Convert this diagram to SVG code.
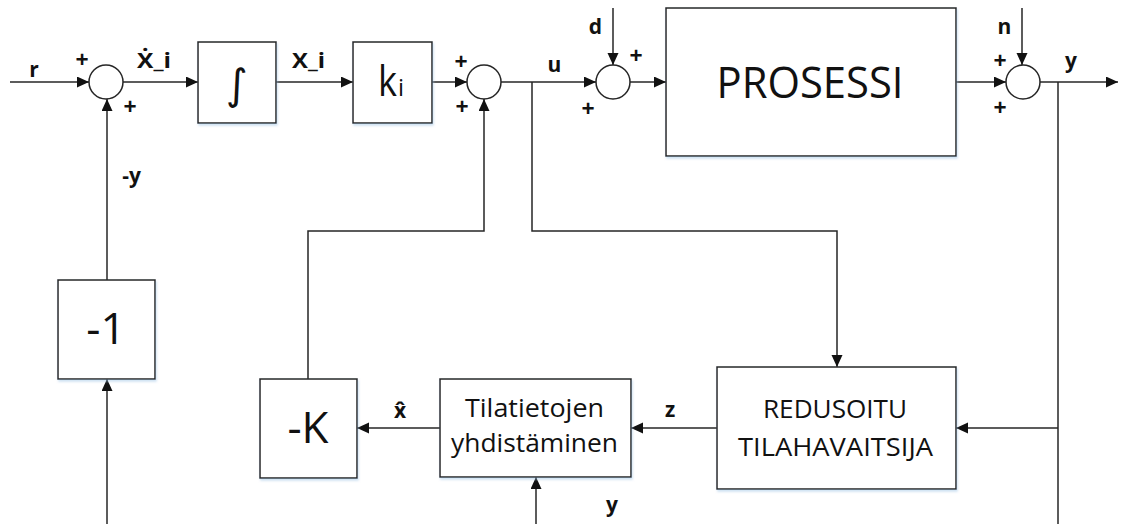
<svg xmlns="http://www.w3.org/2000/svg" width="1122" height="524" viewBox="0 0 1122 524">
<defs>
<style>
.box{fill:#fff;stroke:#262626;stroke-width:1.5;filter:url(#sh)}
.sum{fill:#fff;stroke:#262626;stroke-width:1.5}
.ln{fill:none;stroke:#262626;stroke-width:1.5;marker-end:url(#ah)}
.ln0{fill:none;stroke:#262626;stroke-width:1.5}
.big{font-family:"Open Sans","Noto Sans",sans-serif;fill:#111;text-anchor:middle}
.lbl{font-family:"Open Sans","Noto Sans",sans-serif;font-weight:bold;font-size:21px;fill:#111;text-anchor:middle}
.pl{font-family:"Open Sans","Noto Sans",sans-serif;font-weight:bold;font-size:23px;fill:#111;text-anchor:middle}
</style>
<marker id="ah" markerUnits="userSpaceOnUse" markerWidth="13" markerHeight="12" refX="12" refY="5.5" orient="auto">
<path d="M0,0 L12,5.5 L0,11 Z" fill="#111"/>
</marker>
<filter id="sh" x="-10%" y="-10%" width="120%" height="130%">
<feDropShadow dx="1" dy="2" stdDeviation="1.2" flood-color="#9dc3e6" flood-opacity="0.5"/>
</filter>
</defs>

<g id="connectors">
<path class="ln" d="M10,82 H89"/>
<path class="ln" d="M123,82 H198"/>
<path class="ln" d="M276,82 H353"/>
<path class="ln" d="M432,82 H467"/>
<path class="ln" d="M501,82 H596"/>
<path class="ln" d="M630,82 H666"/>
<path class="ln" d="M613,8 V65"/>
<path class="ln" d="M956,82 H1006"/>
<path class="ln" d="M1022,8 V65"/>
<path class="ln" d="M1040,82 H1118"/>
<path class="ln" d="M532,82 V231 H837 V367"/>
<path class="ln0" d="M1058,82 V524"/>
<path class="ln" d="M1058,428 H956"/>
<path class="ln" d="M717,428 H631"/>
<path class="ln" d="M440,428 H357"/>
<path class="ln" d="M308,379 V231 H484 V99"/>
<path class="ln" d="M107,280 V99"/>
<path class="ln" d="M107,524 V379"/>
<path class="ln" d="M536,524 V477"/>
</g>

<g id="sum1"><circle class="sum" cx="106" cy="82" r="17"/></g>
<g id="sum2"><circle class="sum" cx="484" cy="82" r="17"/></g>
<g id="sum3"><circle class="sum" cx="613" cy="82" r="17"/></g>
<g id="sum4"><circle class="sum" cx="1023" cy="82" r="17"/></g>

<g id="integrator"><rect class="box" x="198" y="42" width="78" height="81"/>
<text x="237" y="99" style="font-family:'DejaVu Sans',sans-serif;font-size:42px;fill:#111;text-anchor:middle">∫</text></g>
<g id="ki"><rect class="box" x="353" y="42" width="79" height="81"/>
<text x="378" y="96" style="font-family:'Open Sans','Noto Sans',sans-serif;fill:#111" font-size="42"><tspan textLength="19" lengthAdjust="spacingAndGlyphs">k</tspan><tspan x="398" font-size="24">i</tspan></text></g>
<g id="prosessi"><rect class="box" x="666" y="8" width="290" height="148"/>
<text class="big" x="810" y="98" font-size="44" textLength="187" lengthAdjust="spacingAndGlyphs">PROSESSI</text></g>
<g id="minus1"><rect class="box" x="58" y="280" width="97" height="99"/>
<text class="big" x="106" y="344" font-size="44">-1</text></g>
<g id="minusK"><rect class="box" x="260" y="379" width="97" height="99"/>
<text class="big" x="308" y="443" font-size="44">-K</text></g>
<g id="tilatietojen"><rect class="box" x="440" y="379" width="191" height="98"/>
<text class="big" x="534.5" y="417" font-size="26" textLength="139" lengthAdjust="spacingAndGlyphs">Tilatietojen</text>
<text class="big" x="534.5" y="452" font-size="26" textLength="167" lengthAdjust="spacingAndGlyphs">yhdistäminen</text></g>
<g id="redusoitu"><rect class="box" x="717" y="367" width="239" height="122"/>
<text class="big" x="835" y="418" font-size="26" textLength="144" lengthAdjust="spacingAndGlyphs">REDUSOITU</text>
<text class="big" x="835.5" y="456" font-size="26" textLength="195" lengthAdjust="spacingAndGlyphs">TILAHAVAITSIJA</text></g>

<g id="labels">
<text class="lbl" x="34" y="77">r</text>
<text class="pl" x="82" y="68">+</text>
<text class="pl" x="130" y="115">+</text>
<text class="lbl" x="154" y="68" textLength="34" lengthAdjust="spacingAndGlyphs">Ẋ_i</text>
<text class="lbl" x="308.5" y="68" textLength="33" lengthAdjust="spacingAndGlyphs">X_i</text>
<text class="pl" x="461" y="70">+</text>
<text class="pl" x="462" y="115">+</text>
<text class="lbl" x="554.5" y="72">u</text>
<text class="lbl" x="595.5" y="34">d</text>
<text class="pl" x="636" y="64">+</text>
<text class="pl" x="588" y="117">+</text>
<text class="lbl" x="1004.5" y="34">n</text>
<text class="pl" x="1000" y="69">+</text>
<text class="pl" x="1000" y="116">+</text>
<text class="lbl" x="1071" y="68">y</text>
<text class="lbl" x="131.5" y="183">-y</text>
<text class="lbl" x="400" y="418">x̂</text>
<text class="lbl" x="670" y="417">z</text>
<text class="lbl" x="612" y="512">y</text>
</g>
</svg>
